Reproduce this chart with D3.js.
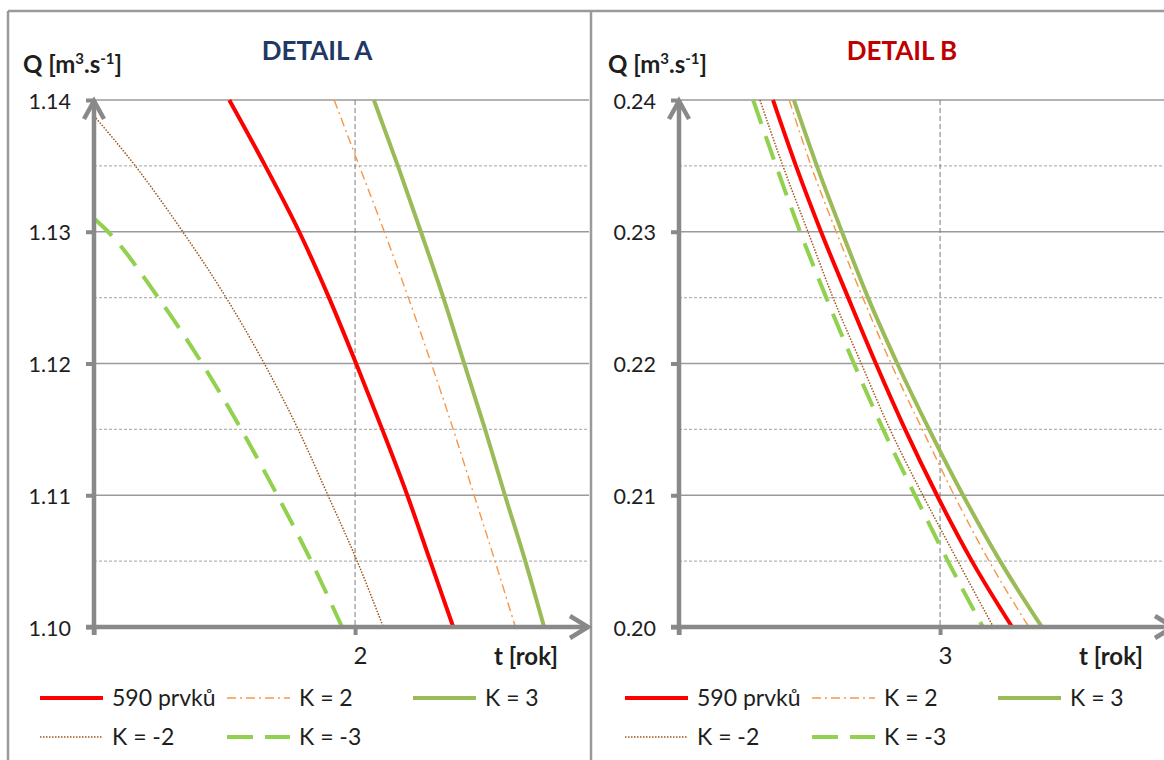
<!DOCTYPE html>
<html><head><meta charset="utf-8">
<script src="https://cdn.jsdelivr.net/npm/d3@7"></script>
<style>
body{margin:0;background:#fff;}
svg{display:block;font-family:Lato,"Open Sans",sans-serif;}
</style></head><body>
<svg id="chart" width="1164" height="760"></svg>
<script>
// ---------- DATA ----------
// Detail A
const qMajorA = [1.14, 1.13, 1.12, 1.11, 1.10];
const qMinorA = [1.135, 1.125, 1.115, 1.105];
const qLevelsA = [1.14, 1.135, 1.13, 1.125, 1.12, 1.115, 1.11, 1.105, 1.10];
const tA_590 = [1.759, 1.828, 1.893, 1.950, 2.002, 2.052, 2.100, 2.144, 2.188];
const tA_K2  = [1.960, 2.008, 2.056, 2.102, 2.146, 2.188, 2.228, 2.268, 2.307];
const tA_K3  = [2.036, 2.082, 2.126, 2.169, 2.209, 2.249, 2.287, 2.326, 2.362];
const tA_Km2 = [1.500, 1.579, 1.670, 1.753, 1.826, 1.891, 1.948, 2.004, 2.054];
const qA_Km2 = [1.1388, 1.135, 1.13, 1.125, 1.12, 1.115, 1.11, 1.105, 1.10];
const tA_Km3 = [1.500, 1.527, 1.623, 1.707, 1.782, 1.851, 1.916, 1.975];
const qA_Km3 = [1.131, 1.13, 1.125, 1.12, 1.115, 1.11, 1.105, 1.10];
const xTicksA = [1.5, 2];
const xLabelA = [2];

// Detail B
const qMajorB = [0.24, 0.23, 0.22, 0.21, 0.20];
const qMinorB = [0.235, 0.225, 0.215, 0.205];
const qLevelsB = [0.24, 0.235, 0.23, 0.225, 0.22, 0.215, 0.21, 0.205, 0.20];
const tB_590 = [2.680, 2.724, 2.772, 2.824, 2.877, 2.933, 2.994, 3.061, 3.138];
const tB_K2  = [2.711, 2.753, 2.801, 2.852, 2.906, 2.966, 3.027, 3.094, 3.170];
const tB_K3  = [2.720, 2.764, 2.812, 2.862, 2.918, 2.979, 3.044, 3.115, 3.195];
const tB_Km2 = [2.655, 2.699, 2.747, 2.795, 2.849, 2.904, 2.967, 3.034, 3.102];
const tB_Km3 = [2.642, 2.686, 2.732, 2.782, 2.835, 2.891, 2.952, 3.015, 3.082];
const xTicksB = [2.5, 3];
const xLabelB = [3];

const seriesNames = ["590 prvků", "K = 2", "K = 3", "K = -2", "K = -3"];
const titles = ["DETAIL A", "DETAIL B"];

// ---------- STYLES ----------
const seriesStyle = [
  {color: "#FF0000", width: 4,   dash: null,      cap: "butt"},
  {color: "#F79646", width: 1.4, dash: "9,4,2,4", cap: "butt"},
  {color: "#9BBB59", width: 4,   dash: null,      cap: "butt"},
  {color: "#A0561A", width: 1.5, dash: "1.5,1.5", cap: "butt"},
  {color: "#92D050", width: 4,   dash: "25,13",   cap: "butt"}
];
const titleColors = ["#1F3864", "#C00000"];
const axisColor = "#898989";
const textColor = "#1e1e1e";

const svg = d3.select("#chart");

// frame
svg.append("line").attr("x1", 8).attr("x2", 1164).attr("y1", 11).attr("y2", 11)
  .attr("stroke", "#9a9a9a").attr("stroke-width", 2.5);
svg.append("line").attr("x1", 8).attr("x2", 8).attr("y1", 11).attr("y2", 760)
  .attr("stroke", "#9a9a9a").attr("stroke-width", 2.5);
svg.append("line").attr("x1", 591).attr("x2", 591).attr("y1", 11).attr("y2", 760)
  .attr("stroke", "#9a9a9a").attr("stroke-width", 2.5);

function zip(ts, qs) { return ts.map((t, i) => ({t: t, q: qs[i]})); }

function drawPanel(idx, off, cfg) {
  const g = svg.append("g").attr("transform", `translate(${off},0)`);
  const L = 94, R = 589, T = 100, B = 627;
  const x = d3.scaleLinear().domain(cfg.xDomain).range([L, R]);
  const y = d3.scaleLinear().domain(cfg.yDomain).range([B, T]);

  const clipId = "clip" + idx;
  g.append("clipPath").attr("id", clipId).append("rect")
    .attr("x", L).attr("y", T - 2).attr("width", R - L).attr("height", B - T + 4);

  // minor gridlines
  g.selectAll(".minor").data(cfg.minor).join("line")
    .attr("x1", L).attr("x2", R).attr("y1", d => y(d)).attr("y2", d => y(d))
    .attr("stroke", "#b5b5b5").attr("stroke-width", 1.2).attr("stroke-dasharray", "3,2");
  // major gridlines
  g.selectAll(".major").data(cfg.major.slice(0, -1)).join("line")
    .attr("x1", L).attr("x2", R).attr("y1", d => y(d)).attr("y2", d => y(d))
    .attr("stroke", "#9a9a9a").attr("stroke-width", 1.6);
  // vertical dashed gridline
  g.selectAll(".vgrid").data(cfg.xLabels).join("line")
    .attr("x1", d => x(d)).attr("x2", d => x(d)).attr("y1", T).attr("y2", B)
    .attr("stroke", "#7a7a7a").attr("stroke-width", 1).attr("stroke-dasharray", "5,3");

  // series
  const line = d3.line().x(d => x(d.t)).y(d => y(d.q)).curve(d3.curveMonotoneX);
  const sg = g.append("g").attr("clip-path", `url(#${clipId})`);
  cfg.series.forEach((s, i) => {
    const st = seriesStyle[i];
    sg.append("path").datum(s).attr("d", line)
      .attr("fill", "none").attr("stroke", st.color).attr("stroke-width", st.width)
      .attr("stroke-dasharray", st.dash).attr("stroke-linecap", st.cap)
      .attr("stroke-linejoin", "round");
  });

  // y axis ticks and labels
  const yAxis = d3.axisLeft(y).tickValues(cfg.major).tickSize(8).tickPadding(15)
    .tickFormat(d3.format(".2f"));
  const ya = g.append("g").attr("transform", `translate(${L},0)`).call(yAxis);
  ya.select(".domain").remove();
  ya.selectAll(".tick line").attr("stroke", axisColor).attr("stroke-width", 4);
  ya.selectAll(".tick text").attr("font-size", 21.5).attr("fill", textColor)
    .attr("font-family", "Lato").attr("dy", "0.38em");

  // x axis ticks and labels
  const xAxis = d3.axisBottom(x).tickValues(cfg.xTicks).tickSize(8).tickPadding(12)
    .tickFormat(d => cfg.xLabels.includes(d) ? d3.format("d")(d) : "");
  const xa = g.append("g").attr("transform", `translate(0,${B})`).call(xAxis);
  xa.select(".domain").remove();
  xa.selectAll(".tick line").attr("stroke", axisColor).attr("stroke-width", 4);
  xa.selectAll(".tick text").attr("font-size", 24).attr("fill", textColor)
    .attr("font-family", "Lato").attr("dx", 5);

  // axis lines with arrowheads
  g.append("line").attr("x1", L).attr("x2", L).attr("y1", B + 8).attr("y2", T + 1)
    .attr("stroke", axisColor).attr("stroke-width", 4.5);
  g.append("line").attr("x1", L - 8).attr("x2", R - 1).attr("y1", B).attr("y2", B)
    .attr("stroke", axisColor).attr("stroke-width", 4.5);
  g.append("path").attr("d", `M${L - 10},${T + 19}L${L},${T + 1}L${L + 10},${T + 19}`)
    .attr("fill", "none").attr("stroke", axisColor).attr("stroke-width", 4.5)
    .attr("stroke-linejoin", "miter");
  g.append("path").attr("d", `M${R - 19},${B - 11}L${R - 1},${B}L${R - 19},${B + 11}`)
    .attr("fill", "none").attr("stroke", axisColor).attr("stroke-width", 4.5)
    .attr("stroke-linejoin", "miter");

  // title
  g.append("text").attr("x", 317).attr("y", 60).attr("text-anchor", "middle")
    .attr("font-size", 26).attr("font-weight", "bold").attr("fill", titleColors[idx])
    .text(titles[idx]);

  // y axis label with superscripts
  const yl = g.append("text").attr("x", 23).attr("y", 73)
    .attr("font-size", 24).attr("font-weight", "bold").attr("fill", textColor);
  yl.append("tspan").text("Q [m");
  yl.append("tspan").attr("dy", -9).attr("font-size", 15).text("3");
  yl.append("tspan").attr("dy", 9).text(".s");
  yl.append("tspan").attr("dy", -9).attr("font-size", 15).text("-1");
  yl.append("tspan").attr("dy", 9).text("]");

  // x axis label
  g.append("text").attr("x", 558).attr("y", 665).attr("text-anchor", "end")
    .attr("font-size", 24).attr("font-weight", "bold").attr("fill", textColor)
    .text("t [rok]");

  // legend
  const cols = [40, 227, 413], rows = [698, 737];
  const pos = [[0, 0], [1, 0], [2, 0], [0, 1], [1, 1]];
  seriesNames.forEach((name, i) => {
    const st = seriesStyle[i];
    const lx = cols[pos[i][0]], ly = rows[pos[i][1]];
    g.append("line").attr("x1", lx).attr("x2", lx + 63).attr("y1", ly).attr("y2", ly)
      .attr("stroke", st.color).attr("stroke-width", st.width)
      .attr("stroke-dasharray", i === 4 ? "26,12" : st.dash);
    g.append("text").attr("x", lx + 72).attr("y", ly).attr("dy", "0.36em")
      .attr("font-size", 23).attr("fill", textColor).text(name);
  });
}

drawPanel(0, 0, {
  xDomain: [1.5, 2.448], yDomain: [1.10, 1.14],
  major: qMajorA, minor: qMinorA, xTicks: xTicksA, xLabels: xLabelA,
  series: [zip(tA_590, qLevelsA), zip(tA_K2, qLevelsA), zip(tA_K3, qLevelsA),
           zip(tA_Km2, qA_Km2), zip(tA_Km3, qA_Km3)]
});
drawPanel(1, 585, {
  xDomain: [2.5, 3.448], yDomain: [0.20, 0.24],
  major: qMajorB, minor: qMinorB, xTicks: xTicksB, xLabels: xLabelB,
  series: [zip(tB_590, qLevelsB), zip(tB_K2, qLevelsB), zip(tB_K3, qLevelsB),
           zip(tB_Km2, qLevelsB), zip(tB_Km3, qLevelsB)]
});
</script>
</body></html>
